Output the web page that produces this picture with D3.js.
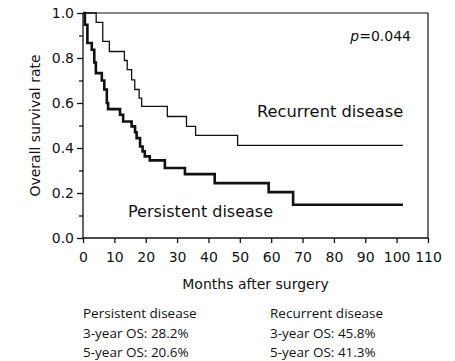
<!DOCTYPE html>
<html>
<head>
<meta charset="utf-8">
<script src="https://cdn.jsdelivr.net/npm/d3@7"></script>
<style>
  html, body { margin: 0; padding: 0; background: #fff; }
  svg { display: block; }
</style>
</head>
<body>
<div id="chart"></div>
<script>
// Kaplan-Meier steps: [month, survival]
const persistentTimes = [0, 0.6, 1.4, 2.8, 3.6, 4.1, 6.0, 6.8, 7.6, 8.0, 11.8, 12.8, 15.5, 16.6, 17.1, 18.2, 19.0, 19.7, 21.3, 26.1, 32.5, 42.0, 59.2, 67.0, 102];
const persistentSurv  = [1.0, 0.948, 0.867, 0.837, 0.78, 0.733, 0.70, 0.66, 0.60, 0.573, 0.548, 0.518, 0.496, 0.47, 0.444, 0.407, 0.385, 0.363, 0.345, 0.311, 0.284, 0.244, 0.204, 0.148, 0.148];

const recurrentTimes = [0, 4.2, 6.3, 8.4, 13.2, 14.1, 15.5, 16.5, 17.9, 18.7, 26.9, 33.0, 35.9, 49.3, 102];
const recurrentSurv  = [1.0, 0.958, 0.874, 0.829, 0.789, 0.748, 0.703, 0.66, 0.622, 0.585, 0.54, 0.496, 0.456, 0.412, 0.412];

const xTicks = [0, 10, 20, 30, 40, 50, 60, 70, 80, 90, 100, 110];
const yMajor = [0, 0.2, 0.4, 0.6, 0.8, 1.0];
const yMinor = [0.1, 0.3, 0.5, 0.7, 0.9];

const persistentNotes = ["Persistent disease", "3-year OS: 28.2%", "5-year OS: 20.6%"];
const recurrentNotes  = ["Recurrent disease", "3-year OS: 45.8%", "5-year OS: 41.3%"];

const W = 455, H = 361;
const margin = { top: 13, right: 27, bottom: 123, left: 83 };
const innerW = W - margin.left - margin.right;
const innerH = H - margin.top - margin.bottom;
const font = "'DejaVu Sans', Verdana, sans-serif";
const noteFont = "'Open Sans', Lato, sans-serif";
const ink = "#111";

const svg = d3.select("#chart").append("svg")
    .attr("width", W)
    .attr("height", H);

const g = svg.append("g")
    .attr("transform", `translate(${margin.left},${margin.top})`);

const x = d3.scaleLinear().domain([0, 110]).range([0, innerW]);
const y = d3.scaleLinear().domain([0, 1]).range([innerH, 0]);

// frame (top and right edges)
g.append("path")
    .attr("d", `M0,0H${innerW}V${innerH}`)
    .attr("fill", "none")
    .attr("stroke", ink)
    .attr("stroke-width", 1.2);

// y axis, major ticks with labels
g.append("g")
    .call(d3.axisLeft(y).tickValues(yMajor).tickSize(6).tickPadding(3).tickFormat(d3.format(".1f")));
// y minor ticks
g.append("g")
    .call(d3.axisLeft(y).tickValues(yMinor).tickSize(4).tickFormat(""))
    .select(".domain").remove();

g.append("g")
    .attr("transform", `translate(0,${innerH})`)
    .call(d3.axisBottom(x).tickValues(xTicks).tickSize(5).tickPadding(9));

svg.selectAll(".tick text")
    .attr("font-family", font)
    .attr("font-size", 14)
    .attr("fill", ink);
svg.selectAll(".domain, .tick line")
    .attr("stroke", ink)
    .attr("stroke-width", 1.3);
// keep domain line clean at the ends
svg.selectAll(".domain").attr("d", function () {
    return d3.select(this.parentNode).attr("transform") ? `M0,0H${innerW}` : `M0,0V${innerH}`;
});

// survival curves
const step = d3.line()
    .x(d => x(d[0]))
    .y(d => y(d[1]))
    .curve(d3.curveStepAfter);

g.append("path")
    .datum(recurrentTimes.map((t, i) => [t, recurrentSurv[i]]))
    .attr("fill", "none")
    .attr("stroke", ink)
    .attr("stroke-width", 1.3)
    .attr("d", step);

g.append("path")
    .datum(persistentTimes.map((t, i) => [t, persistentSurv[i]]))
    .attr("fill", "none")
    .attr("stroke", ink)
    .attr("stroke-width", 2.6)
    .attr("d", step);

// in-plot labels
g.append("text")
    .attr("x", innerW - 17)
    .attr("y", 28)
    .attr("text-anchor", "end")
    .attr("font-family", font)
    .attr("font-size", 14)
    .attr("fill", ink)
    .html("<tspan font-style='italic'>p</tspan>=0.044");

g.append("text")
    .attr("x", 174)
    .attr("y", 104)
    .attr("font-family", font)
    .attr("font-size", 16.3)
    .attr("fill", ink)
    .text("Recurrent disease");

g.append("text")
    .attr("x", 45)
    .attr("y", 204)
    .attr("font-family", font)
    .attr("font-size", 16)
    .attr("fill", ink)
    .text("Persistent disease");

// axis titles
svg.append("text")
    .attr("x", margin.left + innerW / 2)
    .attr("y", 289)
    .attr("text-anchor", "middle")
    .attr("font-family", font)
    .attr("font-size", 14)
    .attr("fill", ink)
    .text("Months after surgery");

svg.append("text")
    .attr("transform", `translate(40,${margin.top + innerH / 2}) rotate(-90)`)
    .attr("text-anchor", "middle")
    .attr("font-family", font)
    .attr("font-size", 14)
    .attr("fill", ink)
    .text("Overall survival rate");

// OS notes under the chart
[[persistentNotes, 83], [recurrentNotes, 270]].forEach(([lines, x0]) => {
    svg.append("g").selectAll("text")
        .data(lines)
        .join("text")
        .attr("x", x0)
        .attr("y", (d, i) => 318 + i * 19.5)
        .attr("font-family", noteFont)
        .attr("font-size", 13.5)
        .attr("fill", ink)
        .text(d => d);
});
</script>
</body>
</html>
